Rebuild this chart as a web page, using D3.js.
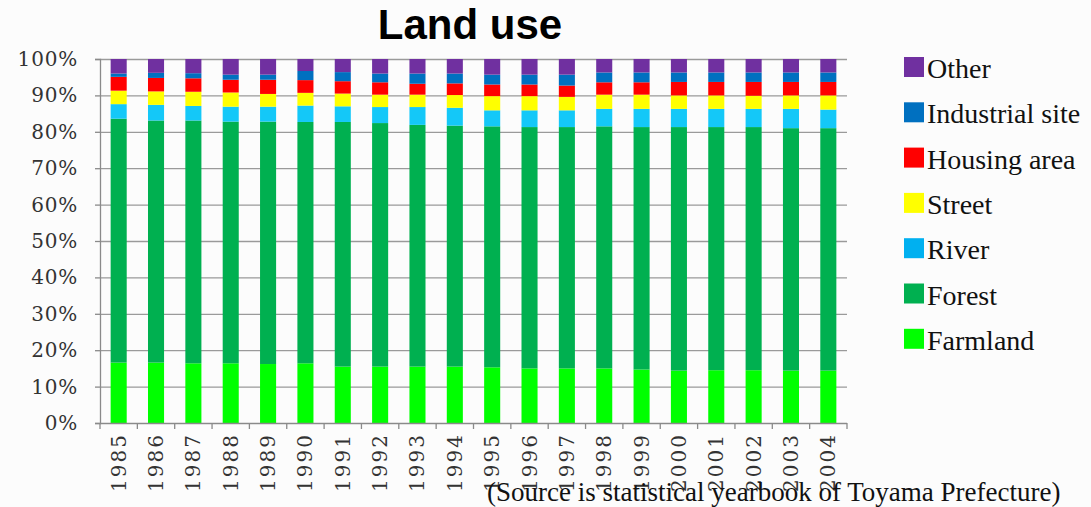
<!DOCTYPE html>
<html>
<head>
<meta charset="utf-8">
<script src="https://cdn.jsdelivr.net/npm/d3@7"></script>
<style>
  html, body { margin: 0; padding: 0; background: #fcfcfc; }
  svg { display: block; }
</style>
</head>
<body>
<svg id="chart" width="1091" height="507"></svg>
<script>
// Years on the category axis
const years = ["1985","1986","1987","1988","1989","1990","1991","1992","1993","1994",
               "1995","1996","1997","1998","1999","2000","2001","2002","2003","2004"];

// Share of land area per use (%), one value per year
const farmland   = [16.6,16.6,16.4,16.4,16.2,16.4,15.5,15.5,15.5,15.5,15.3,15.0,15.0,15.0,14.7,14.4,14.5,14.5,14.4,14.4];
const forest     = [67.0,66.5,66.7,66.4,66.6,66.3,67.2,66.9,66.4,66.2,66.2,66.3,66.3,66.5,66.6,66.9,66.8,66.8,66.6,66.6];
const river      = [4.0,4.3,4.0,4.1,4.1,4.5,4.3,4.4,4.9,4.9,4.4,4.6,4.6,4.8,5.0,5.0,5.0,5.0,5.3,5.1];
const street     = [3.7,3.7,3.9,3.9,3.5,3.5,3.5,3.4,3.4,3.5,3.9,3.9,3.7,3.9,3.9,3.7,3.7,3.6,3.7,3.9];
const housing    = [3.8,3.7,3.7,3.5,3.9,3.5,3.4,3.4,3.0,3.2,3.2,3.2,3.1,3.4,3.4,3.7,3.7,3.8,3.7,3.7];
const industrial = [0.9,1.4,1.4,1.4,1.4,2.5,2.5,2.4,2.8,2.7,2.7,2.7,3.0,2.7,2.7,2.6,2.6,2.6,2.6,2.6];
const other      = [4.0,3.8,3.9,4.3,4.3,3.3,3.6,4.0,4.0,4.0,4.3,4.3,4.3,3.7,3.7,3.7,3.7,3.7,3.7,3.7];

// Series from bottom of the stack to top
const seriesNames = ["Farmland","Forest","River","Street","Housing area","Industrial site","Other"];
const seriesValues = [farmland, forest, river, street, housing, industrial, other];
const seriesColors = ["#00ff00","#00b050","#14c8f8","#ffff00","#ff0000","#0070c0","#7030a0"];
const legendColors = ["#00ff00","#00b050","#00b0f0","#ffff00","#ff0000","#0070c0","#7030a0"];

const yTicks = [0,10,20,30,40,50,60,70,80,90,100];

const rows = years.map((yr, i) => {
  const r = { year: yr };
  seriesNames.forEach((n, k) => { r[n] = seriesValues[k][i]; });
  return r;
});

const svg = d3.select("#chart");
const plotLeft = 100, plotRight = 847, plotTop = 59, plotBottom = 423;
const axisFont = "'DejaVu Serif', 'Liberation Serif', serif";
const textFont = "'Liberation Serif', 'Times New Roman', serif";

const x = d3.scaleBand().domain(years).range([plotLeft, plotRight])
  .paddingInner(0.57).paddingOuter(0.285);
const y = d3.scaleLinear().domain([0, 100]).range([plotBottom, plotTop]);

const stacked = d3.stack().keys(seriesNames)(rows);

// Title
svg.append("text")
  .attr("x", 470).attr("y", 39)
  .attr("text-anchor", "middle")
  .attr("font-family", "'Liberation Sans', Arial, sans-serif")
  .attr("font-weight", "bold")
  .attr("font-size", 42)
  .attr("fill", "#000")
  .text("Land use");

// Horizontal gridlines
svg.append("g").selectAll("line")
  .data(yTicks.filter(t => t > 0))
  .join("line")
  .attr("x1", plotLeft).attr("x2", plotRight)
  .attr("y1", d => y(d) + 0.5).attr("y2", d => y(d) + 0.5)
  .attr("stroke", "#9a9a9a").attr("stroke-width", 1.3);

// Stacked bars
svg.append("g").selectAll("g")
  .data(stacked)
  .join("g")
  .attr("fill", (d, i) => seriesColors[i])
  .selectAll("rect")
  .data(d => d)
  .join("rect")
  .attr("x", d => x(d.data.year))
  .attr("width", x.bandwidth())
  .attr("y", d => y(d[1]))
  .attr("height", d => y(d[0]) - y(d[1]));

// Y axis
const yAxis = d3.axisLeft(y).tickValues(yTicks).tickSize(5).tickPadding(17)
  .tickFormat(d => d + "%");
const gy = svg.append("g").attr("transform", `translate(${plotLeft},0)`).call(yAxis);
gy.select(".domain").attr("stroke", "#8a8a8a").attr("stroke-width", 1.3);
gy.selectAll(".tick line").attr("stroke", "#8a8a8a").attr("stroke-width", 1.3);
gy.selectAll(".tick text")
  .attr("font-family", axisFont)
  .attr("font-size", 20)
  .attr("letter-spacing", "0.8px")
  .attr("fill", "#333");

// X axis: baseline with ticks at category boundaries
const gx = svg.append("g");
gx.append("line")
  .attr("x1", plotLeft).attr("x2", plotRight)
  .attr("y1", plotBottom + 0.5).attr("y2", plotBottom + 0.5)
  .attr("stroke", "#8a8a8a").attr("stroke-width", 1.3);
const step = x.step();
gx.selectAll("line.tick")
  .data(d3.range(years.length + 1))
  .join("line")
  .attr("class", "tick")
  .attr("x1", i => plotLeft + i * step).attr("x2", i => plotLeft + i * step)
  .attr("y1", plotBottom).attr("y2", plotBottom + 6)
  .attr("stroke", "#8a8a8a").attr("stroke-width", 1.3);
gx.selectAll("text")
  .data(years)
  .join("text")
  .attr("transform", d => `translate(${x(d) + x.bandwidth() / 2 + 7},${plotBottom + 10}) rotate(-90)`)
  .attr("text-anchor", "end")
  .attr("font-family", axisFont)
  .attr("font-size", 20)
  .attr("letter-spacing", "2px")
  .attr("fill", "#333")
  .text(d => d);

// Legend, top entry first
const legendOrder = d3.range(seriesNames.length).reverse();
const lg = svg.append("g").selectAll("g")
  .data(legendOrder)
  .join("g")
  .attr("transform", (k, i) => `translate(904,${57 + i * 45.3})`);
lg.append("rect")
  .attr("width", 20).attr("height", 20)
  .attr("fill", k => legendColors[k]);
lg.append("text")
  .attr("x", 23).attr("y", 21)
  .attr("font-family", textFont)
  .attr("font-size", 28)
  .attr("fill", "#111")
  .text(k => seriesNames[k]);

// Source note
svg.append("text")
  .attr("x", 487).attr("y", 501)
  .attr("font-family", textFont)
  .attr("font-size", 27)
  .attr("fill", "#111")
  .text("(Source is statistical yearbook of Toyama Prefecture)");
</script>
</body>
</html>
